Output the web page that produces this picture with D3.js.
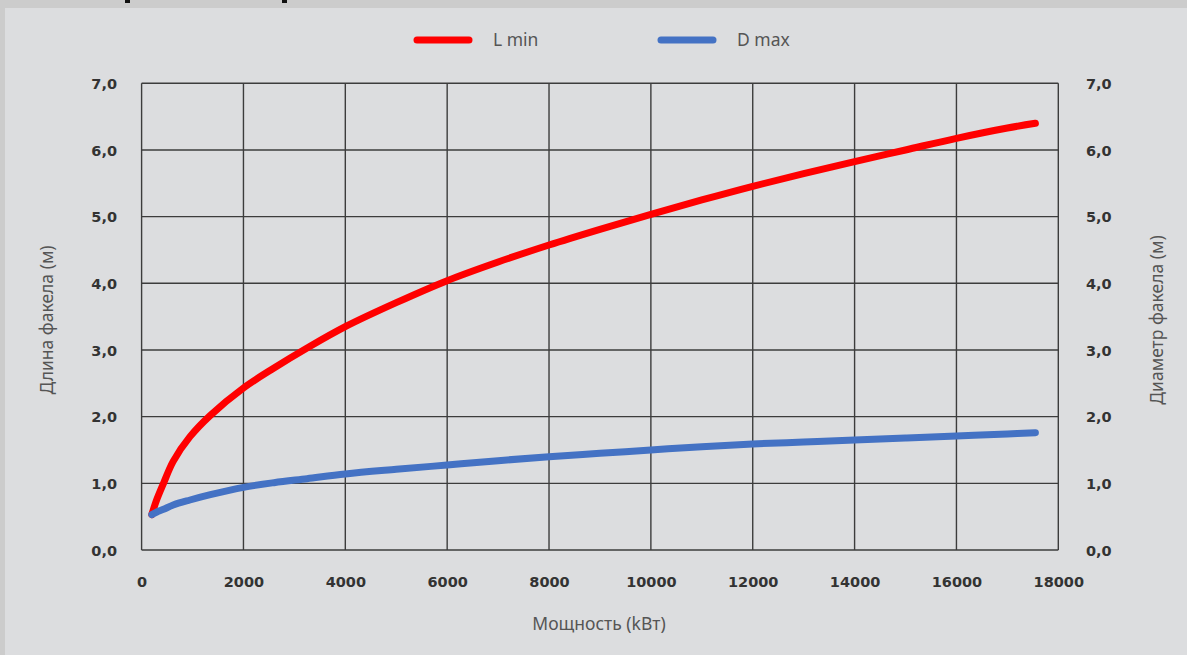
<!DOCTYPE html>
<html><head><meta charset="utf-8">
<script src="https://cdn.jsdelivr.net/npm/d3@7"></script>
<style>
html,body{margin:0;padding:0;background:#cccccc;}
svg{display:block;}
</style></head>
<body>
<svg id="chart" width="1187" height="655"></svg>
<script>
// ---- data ----
const power = [200, 300, 430, 620, 950, 1350, 2000, 2600, 3250, 4000, 5000, 6000, 7000, 8000, 9000, 10000, 11000, 12000, 13000, 14000, 15000, 16000, 17000, 17550];
const lMin  = [0.53, 0.76, 1.00, 1.33, 1.70, 2.02, 2.43, 2.73, 3.03, 3.35, 3.71, 4.04, 4.32, 4.575, 4.81, 5.035, 5.25, 5.455, 5.645, 5.825, 6.00, 6.175, 6.33, 6.40];
const dMax  = [0.53, 0.57, 0.61, 0.675, 0.75, 0.83, 0.94, 1.01, 1.07, 1.14, 1.21, 1.275, 1.34, 1.40, 1.45, 1.50, 1.55, 1.59, 1.62, 1.65, 1.68, 1.71, 1.74, 1.76];
const xTicks = [0, 2000, 4000, 6000, 8000, 10000, 12000, 14000, 16000, 18000];
const yTicks = [0, 1, 2, 3, 4, 5, 6, 7];
const seriesNames = ["L min", "D max"];
const seriesColors = ["#ff0000", "#4472c4"];
const xTitle = "Мощность (kВт)";
const yTitleLeft = "Длина факела (м)";
const yTitleRight = "Диаметр факела (м)";

const svg = d3.select("#chart");
// inner panel
svg.append("rect").attr("x", 5).attr("y", 8).attr("width", 1182).attr("height", 647).attr("fill", "#dcdddf");
// cropped heading fragments at very top
svg.append("rect").attr("x", 125).attr("y", 0).attr("width", 5).attr("height", 3).attr("fill", "#111");
svg.append("rect").attr("x", 282).attr("y", 0).attr("width", 5).attr("height", 3).attr("fill", "#111");

const x = d3.scaleLinear().domain([0, 18000]).range([141.6, 1058.3]);
const y = d3.scaleLinear().domain([0, 7]).range([550, 83.3]);

const g = svg.append("g");
// grid
g.selectAll("line.v").data(xTicks).join("line")
  .attr("x1", d => x(d)).attr("x2", d => x(d)).attr("y1", y(7)).attr("y2", y(0))
  .attr("stroke", "#3c3c3c").attr("stroke-width", 1.4);
g.selectAll("line.h").data(yTicks).join("line")
  .attr("x1", x(0)).attr("x2", x(18000)).attr("y1", d => y(d)).attr("y2", d => y(d))
  .attr("stroke", "#3c3c3c").attr("stroke-width", 1.4);

const fmt = d => d3.format(".1f")(d).replace(".", ",");
const tickFont = "'DejaVu Sans', sans-serif";
const tickSize = 14.5;

// left axis labels
const yAxisL = d3.axisLeft(y).tickValues(yTicks).tickFormat(fmt).tickSize(0).tickPadding(0);
const gl = svg.append("g").attr("transform", "translate(117,0)").call(yAxisL);
gl.select(".domain").remove();
gl.selectAll("text").attr("font-family", tickFont).attr("font-weight", "bold").attr("font-size", tickSize).attr("fill", "#333").attr("dy", "0.36em");

// right axis labels
const yAxisR = d3.axisRight(y).tickValues(yTicks).tickFormat(fmt).tickSize(0).tickPadding(0);
const gr = svg.append("g").attr("transform", "translate(1086,0)").call(yAxisR);
gr.select(".domain").remove();
gr.selectAll("text").attr("font-family", tickFont).attr("font-weight", "bold").attr("font-size", tickSize).attr("fill", "#333").attr("dy", "0.36em");

// bottom axis labels
const xAxis = d3.axisBottom(x).tickValues(xTicks).tickFormat(d3.format("d")).tickSize(0).tickPadding(0);
const gx = svg.append("g").attr("transform", "translate(0,577)").call(xAxis);
gx.select(".domain").remove();
gx.selectAll("text").attr("font-family", tickFont).attr("font-weight", "bold").attr("font-size", tickSize).attr("fill", "#333").attr("dy", "0.71em");

// axis titles
const titleFont = "'Noto Sans', sans-serif";
const titleSize = 17.5;
svg.append("text").attr("x", 599).attr("y", 630).attr("text-anchor", "middle")
  .attr("font-family", titleFont).attr("font-size", titleSize).attr("fill", "#555").text(xTitle);
svg.append("text").attr("transform", "translate(53,320) rotate(-90)").attr("text-anchor", "middle")
  .attr("font-family", titleFont).attr("font-size", titleSize).attr("fill", "#555").text(yTitleLeft);
svg.append("text").attr("transform", "translate(1163,320) rotate(-90)").attr("text-anchor", "middle")
  .attr("font-family", titleFont).attr("font-size", titleSize).attr("fill", "#555").text(yTitleRight);

// lines
const series = [lMin, dMax];
const line = d3.line().x((d, i) => x(power[i])).y(d => y(d)).curve(d3.curveCatmullRom.alpha(0.5));
series.forEach((s, k) => {
  svg.append("path").datum(s).attr("d", line)
    .attr("fill", "none").attr("stroke", seriesColors[k]).attr("stroke-width", 7)
    .attr("stroke-linecap", "round").attr("stroke-linejoin", "round");
});

// legend
const legX = [417, 661];
seriesNames.forEach((n, k) => {
  svg.append("line").attr("x1", legX[k]).attr("x2", legX[k] + 52).attr("y1", 40).attr("y2", 40)
    .attr("stroke", seriesColors[k]).attr("stroke-width", 7).attr("stroke-linecap", "round");
  svg.append("text").attr("x", legX[k] + 76).attr("y", 46)
    .attr("font-family", titleFont).attr("font-size", titleSize).attr("fill", "#555").text(n);
});
</script>
</body></html>
